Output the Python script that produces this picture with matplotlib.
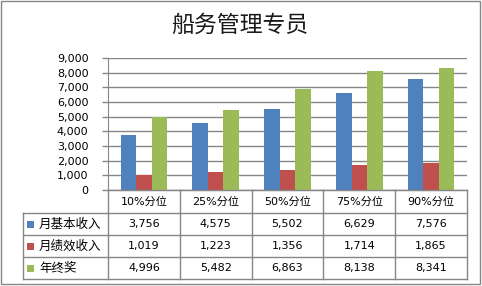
import matplotlib
matplotlib.use("Agg")
import matplotlib.pyplot as plt
from matplotlib.patches import Rectangle
from matplotlib.lines import Line2D
import numpy as np

plt.rcParams['font.family'] = ['DejaVu Sans', 'Noto Sans CJK SC']

title = "船务管理专员"
categories = ["10%分位", "25%分位", "50%分位", "75%分位", "90%分位"]
series_names = ["月基本收入", "月绩效收入", "年终奖"]
basic = [3756, 4575, 5502, 6629, 7576]
perf = [1019, 1223, 1356, 1714, 1865]
bonus = [4996, 5482, 6863, 8138, 8341]
series = [basic, perf, bonus]
colors = ["#4F81BD", "#C0504D", "#9BBB59"]
yticks = [0, 1000, 2000, 3000, 4000, 5000, 6000, 7000, 8000, 9000]

W, H = 482, 286
fig = plt.figure(figsize=(W / 100, H / 100), dpi=100)
fig.patch.set_facecolor("white")

def fx(px):
    return px / W

def fy(py):
    return 1 - py / H

grid_c = "#868686"

# Plot area
L, R, T, B = 108, 467, 58, 190
ax = fig.add_axes([fx(L), fy(B), fx(R) - fx(L), fy(T) - fy(B)])
n = len(categories)
x = np.arange(n)
bw = 0.216
for i, (vals, c) in enumerate(zip(series, colors)):
    ax.bar(x + (i - 1) * bw, vals, width=bw, color=c, zorder=3)
ax.set_xlim(-0.5, n - 0.5)
ax.set_ylim(0, 9000)
ax.set_yticks(yticks)
ax.set_yticklabels([f"{v:,}" for v in yticks], fontsize=8, color="black")
ax.yaxis.grid(True, color=grid_c, linewidth=1, zorder=0)
ax.set_xticks([])
for s in ["top", "right"]:
    ax.spines[s].set_visible(False)
ax.spines["left"].set_color(grid_c)
ax.spines["bottom"].set_color(grid_c)
ax.tick_params(axis="y", length=4, width=1, color=grid_c, pad=10)

# Title
fig.text(fx(240), fy(25), title, fontsize=16.5, ha="center", va="center",
         family=["Noto Sans CJK SC"], color="#1a1a1a")

# Data table
rows_y = [190, 213, 235, 257, 279]
col_x = [L + (R - L) * k / n for k in range(n + 1)]
left_x = 23
tc = grid_c
lines = []
# horizontal lines
lines.append(((L, R), (rows_y[0], rows_y[0])))
for yy in rows_y[1:]:
    lines.append(((left_x, R), (yy, yy)))
# vertical lines
for xx in col_x:
    lines.append(((xx, xx), (rows_y[0], rows_y[-1])))
lines.append(((left_x, left_x), (rows_y[1], rows_y[-1])))
for (xs, ys) in lines:
    fig.add_artist(Line2D([fx(xs[0]), fx(xs[1])], [fy(ys[0]), fy(ys[1])],
                          color=tc, linewidth=1))

# header
for k, cat in enumerate(categories):
    cx = (col_x[k] + col_x[k + 1]) / 2
    fig.text(fx(cx), fy((rows_y[0] + rows_y[1]) / 2), cat, fontsize=8,
             ha="center", va="center")

# series rows
for r, (name, vals, c) in enumerate(zip(series_names, series, colors)):
    cy = (rows_y[r + 1] + rows_y[r + 2]) / 2
    fig.add_artist(Rectangle((fx(27), fy(cy + 3.5)), 7 / W, 7 / H,
                             facecolor=c, edgecolor="none"))
    fig.text(fx(39), fy(cy), name, fontsize=9, ha="left", va="center",
             family=["Noto Sans CJK SC"])
    for k, v in enumerate(vals):
        cx = (col_x[k] + col_x[k + 1]) / 2
        fig.text(fx(cx), fy(cy), f"{v:,}", fontsize=8, ha="center", va="center")

# Outer border
fig.add_artist(Rectangle((fx(1), fy(284)), fx(480) - fx(1), fy(1) - fy(284),
                         facecolor="none", edgecolor=grid_c, linewidth=1))

fig.savefig("out.png", dpi=100)
